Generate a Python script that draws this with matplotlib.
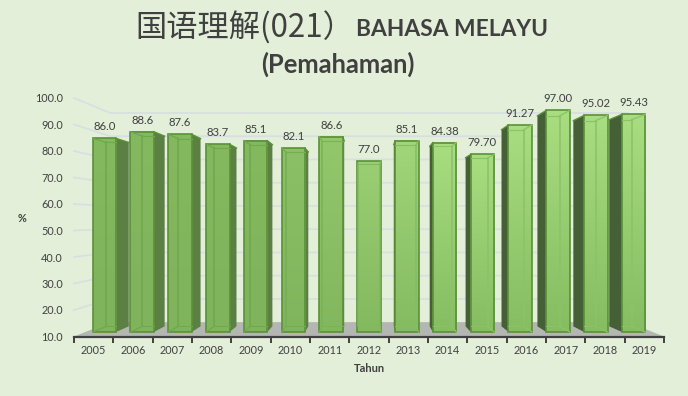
import matplotlib
matplotlib.use('Agg')
import matplotlib.pyplot as plt
from matplotlib.colors import LinearSegmentedColormap, to_rgb
from matplotlib.patches import Polygon
import numpy as np

years = ['2005', '2006', '2007', '2008', '2009', '2010', '2011', '2012', '2013', '2014', '2015', '2016', '2017', '2018', '2019']
values = [86.0, 88.6, 87.6, 83.7, 85.1, 82.1, 86.6, 77.0, 85.1, 84.38, 79.70, 91.27, 97.00, 95.02, 95.43]
labels = ['86.0', '88.6', '87.6', '83.7', '85.1', '82.1', '86.6', '77.0', '85.1', '84.38', '79.70', '91.27', '97.00', '95.02', '95.43']
y_ticks = [10, 20, 30, 40, 50, 60, 70, 80, 90, 100]

BG = '#e3efd9'
TEXT = '#404040'
plt.rcParams['font.family'] = ['Lato', 'Noto Sans CJK SC', 'DejaVu Sans']

W, H = 688, 396
fig = plt.figure(figsize=(W / 100, H / 100), dpi=100, facecolor=BG)
ax = fig.add_axes([74 / W, 1 - 336.5 / H, 590 / W, 238.5 / H], facecolor='none')

# perspective centre in data units, k is how far back a plane sits
XC, YC = 7.5, 54.0
K_WALL, K_FRONT, K_BACK = 0.877, 0.961, 0.913


def proj(x, y, k):
    return XC + k * (x - XC), YC + k * (y - YC)


def poly(pts, **kw):
    p = Polygon(pts, closed=True, clip_on=False, **kw)
    ax.add_patch(p)
    return p


def mix(c1, c2, t):
    return tuple((1 - t) * a + t * b for a, b in zip(to_rgb(c1), to_rgb(c2)))


# walls gridlines
for v in y_ticks[1:]:
    a = proj(0, v, 1)
    b = proj(0, v, K_WALL)
    c = proj(15, v, K_WALL)
    ax.plot([a[0], b[0], c[0]], [a[1], b[1], c[1]], color='#d8dfe0', lw=1.2, clip_on=False, zorder=1)

# floor
poly([proj(0, 10, 1), proj(0, 10, K_WALL), proj(15, 10, K_WALL), proj(15, 10, 1)],
     facecolor='#b4b6b2', edgecolor='none', zorder=1)

grad = np.linspace(0, 1, 64).reshape(-1, 1)
for i, v in enumerate(values):
    x0, x1 = i + 0.19, i + 0.81
    fl, ft = proj(x0, v, K_FRONT)
    fr, fb = proj(x1, 10, K_FRONT)
    bl, bt = proj(x0, v, K_BACK)
    br, bb = proj(x1, 10, K_BACK)

    edge = '#5a9138'
    side = '#5c8044' if i < 7 else '#455f36'
    # outer side face
    if i < 7:
        poly([(fr, ft), (br, bt), (br, bb), (fr, fb)], facecolor=side, edgecolor='none', zorder=3)
    elif i > 7:
        poly([(fl, ft), (bl, bt), (bl, bb), (fl, fb)], facecolor=side, edgecolor='none', zorder=3)

    # front face, lighter towards the right of the chart
    t = min(max((i - 4) / 5, 0), 1)
    top_col = mix('#84b95f', '#a8dd80', t)
    bot_col = mix('#7fb35c', '#86bd62', t)
    inner = mix('#70a84c', '#8cc268', t)
    cmap = LinearSegmentedColormap.from_list('g', [top_col, bot_col])
    ax.imshow(grad, extent=[fl, fr, fb, ft], cmap=cmap, aspect='auto', origin='upper', zorder=4.5)
    ax.bar(fl, ft - fb, width=fr - fl, bottom=fb, align='edge', color='none',
           edgecolor=edge, linewidth=1.2, zorder=5, clip_on=False)

    # edges of the far side showing through
    for ix in (bl, br):
        if fl < ix < fr:
            ax.plot([ix, ix], [bb, bt], color=inner, lw=1.1, zorder=6, clip_on=False)
    ax.plot([max(fl, bl), min(fr, br)], [bb, bb], color=inner, lw=0.7, zorder=6, clip_on=False)
    ax.plot([max(fl, bl), min(fr, br)], [bt, bt], color=inner, lw=0.8, zorder=6, clip_on=False)
    near, far = (fl, bl) if i < 7 else (fr, br)
    ax.plot([near, far], [ft, bt], color=inner, lw=0.9, zorder=6, clip_on=False)
    ax.plot([near, far], [fb, bb], color=inner, lw=0.9, zorder=6, clip_on=False)
    # outer top edge
    if i < 7:
        ax.plot([fr, br], [ft, bt], color=edge, lw=1.0, zorder=6, clip_on=False)
    elif i > 7:
        ax.plot([fl, bl], [ft, bt], color=edge, lw=1.0, zorder=6, clip_on=False)

    ax.annotate(labels[i], ((fl + fr) / 2, max(ft, bt)), xytext=(0, 8.3), textcoords='offset points',
                ha='center', va='center', fontsize=8.2, color=TEXT, zorder=8)

ax.set_xlim(0, 15)
ax.set_ylim(10, 100)
ax.spines[['top', 'right', 'left']].set_visible(False)
ax.spines['bottom'].set_color('#404040')
ax.spines['bottom'].set_linewidth(1.6)
ax.set_xticks(np.arange(0, 16))
ax.set_xticklabels([])
ax.set_xticks(np.arange(15) + 0.5, minor=True)
ax.set_xticklabels(years, minor=True, fontsize=7.8, color=TEXT)
ax.tick_params(axis='x', which='major', length=4, width=1.4, color='#404040')
ax.tick_params(axis='x', which='minor', length=0, pad=6.3)
ax.set_yticks(y_ticks)
ax.set_yticklabels([f'{v:.1f}' for v in y_ticks], fontsize=7.8, color=TEXT)
ax.tick_params(axis='y', length=0, pad=8)

fig.text(22 / W, 1 - 218 / H, '%', fontsize=7.8, fontweight='bold', color=TEXT, ha='center', va='center')
fig.text(369 / W, 1 - 368.5 / H, 'Tahun', fontsize=8, fontweight='bold', color=TEXT, ha='center', va='center')

fig.text(135 / W, 1 - 28 / H, '国语理解(021）', fontsize=22.5, color=TEXT, ha='left', va='center',
         family=['Noto Sans CJK SC', 'DejaVu Sans'])
fig.text(356 / W, 1 - 29 / H, 'BAHASA MELAYU', fontsize=16.4, fontweight='bold', color=TEXT, ha='left', va='center')
fig.text(338 / W, 1 - 64 / H, '(Pemahaman)', fontsize=18.4, fontweight='bold', color=TEXT, ha='center', va='center')

fig.savefig('out.png', dpi=100, facecolor=BG)
